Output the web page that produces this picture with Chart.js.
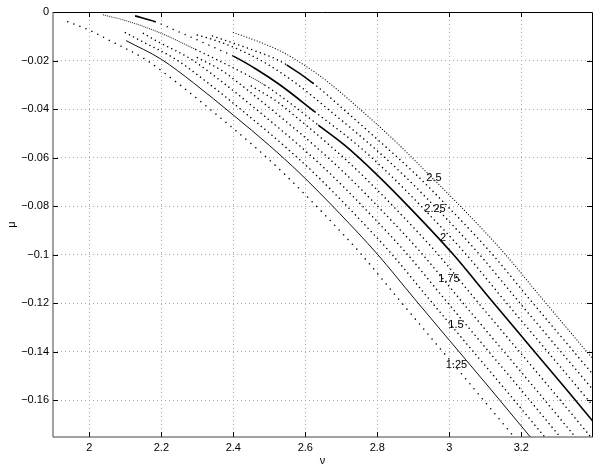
<!DOCTYPE html>
<html><head><meta charset="utf-8">
<script src="https://cdn.jsdelivr.net/npm/chart.js@4.4.1/dist/chart.umd.min.js"></script>
<style>html,body{margin:0;padding:0;background:#fff}#wrap{width:599px;height:470px;position:relative}</style>
</head><body><div id="wrap"><canvas id="c" width="599" height="470"></canvas></div>
<script>
// ---- data (ν, μ) ----
const xTicks = [2, 2.2, 2.4, 2.6, 2.8, 3, 3.2];
const xTickLabels = ["2", "2.2", "2.4", "2.6", "2.8", "3", "3.2"];
const yTicks = [0, -0.02, -0.04, -0.06, -0.08, -0.1, -0.12, -0.14, -0.16];
const yTickLabels = ["0", "\u22120.02", "\u22120.04", "\u22120.06", "\u22120.08", "\u22120.1", "\u22120.12", "\u22120.14", "\u22120.16"];
const xRange = [1.899, 3.3964];
const yRange = [-0.1752, 0];

const curve1 = [[1.94,-0.004],[2.0,-0.0075],[2.057,-0.0118],[2.155,-0.0195],[2.245,-0.0293],[2.355,-0.0425],[2.455,-0.055],[2.54,-0.0665],[2.65,-0.083],[2.755,-0.0998],[2.857,-0.118],[2.955,-0.1353],[3.067,-0.155],[3.179,-0.175],[3.207,-0.18]];
const curve2 = [[2.102,-0.0118],[2.2,-0.0195],[2.29,-0.0293],[2.4,-0.0425],[2.5,-0.055],[2.585,-0.0665],[2.695,-0.083],[2.8,-0.0998],[2.902,-0.118],[3.0,-0.1353],[3.112,-0.155],[3.224,-0.175],[3.252,-0.18]];
const curve3 = [[2.1,-0.0085],[2.142,-0.0118],[2.24,-0.0195],[2.33,-0.0293],[2.44,-0.0425],[2.54,-0.055],[2.625,-0.0665],[2.735,-0.083],[2.84,-0.0998],[2.942,-0.118],[3.04,-0.1353],[3.152,-0.155],[3.264,-0.175],[3.292,-0.18]];
const curve4 = [[2.15,-0.0088],[2.185,-0.0118],[2.283,-0.0195],[2.373,-0.0293],[2.483,-0.0425],[2.583,-0.055],[2.668,-0.0665],[2.778,-0.083],[2.883,-0.0998],[2.985,-0.118],[3.083,-0.1353],[3.195,-0.155],[3.307,-0.175],[3.335,-0.18]];
const curve5 = [[2.3,-0.0188],[2.372,-0.0245],[2.415,-0.0293],[2.525,-0.0425],[2.625,-0.055],[2.71,-0.0665],[2.82,-0.083],[2.925,-0.0998],[3.027,-0.118],[3.125,-0.1353],[3.237,-0.155],[3.349,-0.175],[3.377,-0.18]];
const curve6 = [[2.45,-0.0305],[2.522,-0.037],[2.568,-0.0425],[2.668,-0.055],[2.753,-0.0665],[2.863,-0.083],[2.968,-0.0998],[3.07,-0.118],[3.168,-0.1353],[3.28,-0.155],[3.392,-0.175],[3.42,-0.18]];
const curve7 = [[2.039,-0.0012],[2.1,-0.0035],[2.2,-0.0088],[2.296,-0.0155],[2.37,-0.0208],[2.451,-0.027],[2.488,-0.0302],[2.56,-0.0378],[2.636,-0.0466],[2.71,-0.055],[2.795,-0.0665],[2.905,-0.083],[3.01,-0.0998],[3.112,-0.118],[3.21,-0.1353],[3.322,-0.155],[3.434,-0.175]];
const curve8 = [[2.127,-0.0016],[2.183,-0.004],[2.238,-0.0075],[2.28,-0.0102],[2.321,-0.0129],[2.36,-0.0155],[2.4,-0.0182],[2.465,-0.0237],[2.53,-0.0301],[2.627,-0.0412],[2.746,-0.055],[2.831,-0.0665],[2.941,-0.083],[3.046,-0.0998],[3.148,-0.118],[3.246,-0.1353],[3.358,-0.155],[3.47,-0.175]];
const curve9 = [[2.3,-0.0095],[2.342,-0.0113],[2.4,-0.0145],[2.483,-0.0205],[2.573,-0.0293],[2.683,-0.0425],[2.783,-0.055],[2.868,-0.0665],[2.978,-0.083],[3.083,-0.0998],[3.185,-0.118],[3.283,-0.1353],[3.395,-0.155],[3.507,-0.175]];
const curve10 = [[2.342,-0.0099],[2.4,-0.0128],[2.46,-0.016],[2.52,-0.0195],[2.548,-0.0218],[2.622,-0.0294],[2.719,-0.0418],[2.819,-0.055],[2.904,-0.0665],[3.014,-0.083],[3.119,-0.0998],[3.221,-0.118],[3.319,-0.1353],[3.431,-0.155]];
const curve11 = [[2.4,-0.0085],[2.47,-0.0122],[2.54,-0.0168],[2.6,-0.0222],[2.66,-0.0285],[2.755,-0.0405],[2.855,-0.054],[2.94,-0.0665],[3.05,-0.083],[3.155,-0.0998],[3.257,-0.118],[3.355,-0.1353],[3.467,-0.155]];

const levelLabels = ["2.5", "2.25", "2", "1.75", "1.5", "1.25"];
const levelLabelNu = [2.9575, 2.9603, 2.9825, 2.9992, 3.0186, 3.0200];
const levelLabelMu = [-0.06825, -0.08124, -0.0932, -0.1101, -0.12907, -0.14536];

// ---- styles (kept apart from the data) ----
const STYLES = {
  sparse: {dash:[0.01,6.5], width:1.5, color:'#000', cap:'round'},
  dot:    {dash:[0.01,4.6], width:1.5, color:'#000', cap:'round'},
  fine:   {dash:[0.01,2.8], width:1.2, color:'#111', cap:'round'},
  dense:  {dash:[0.01,2.0], width:1.2, color:'#333', cap:'round'},
  thin:   {dash:[], width:1.0, color:'#111', cap:'butt'},
  thick:  {dash:[], width:1.6, color:'#000', cap:'butt'}
};
const curves = [
  {pts:curve1,  runs:[[0,'sparse']]},
  {pts:curve2,  runs:[[0,'thin']]},
  {pts:curve3,  runs:[[0,'dot']]},
  {pts:curve4,  runs:[[0,'dot']]},
  {pts:curve5,  runs:[[0,'dot']]},
  {pts:curve6,  runs:[[0,'dot']]},
  {pts:curve7,  runs:[[0,'dense'],[3,'dot'],[5,'dense'],[6,'dot'],[8,'thick']]},
  {pts:curve8,  runs:[[0,'thick'],[1,'sparse'],[6,'thick'],[9,'dot']]},
  {pts:curve9,  runs:[[0,'dot']]},
  {pts:curve10, runs:[[0,'dot'],[4,'thick'],[5,'dot']]},
  {pts:curve11, runs:[[0,'fine']]}
];
function styleAt(runs, i){ let s = runs[0][1]; for (const r of runs){ if (i >= r[0]) s = r[1]; } return STYLES[s]; }

const datasets = curves.map(c => {
  const s0 = styleAt(c.runs, 0);
  return {
    data: c.pts.map(p => ({x:p[0], y:p[1]})),
    showLine: true, pointRadius: 0, pointHoverRadius: 0,
    cubicInterpolationMode: 'monotone',
    borderColor: s0.color, borderWidth: s0.width, borderDash: s0.dash, borderCapStyle: s0.cap,
    segment: {
      borderDash: ctx => styleAt(c.runs, ctx.p0DataIndex).dash,
      borderWidth: ctx => styleAt(c.runs, ctx.p0DataIndex).width,
      borderColor: ctx => styleAt(c.runs, ctx.p0DataIndex).color,
      borderCapStyle: ctx => styleAt(c.runs, ctx.p0DataIndex).cap
    }
  };
});

const FONT = '11px "Liberation Sans", Arial, Helvetica, sans-serif';
const deco = {
  id: 'deco',
  afterDraw(chart){
    const {ctx, chartArea:a, scales:{x, y}} = chart;
    ctx.save();
    // ticks (inward, all four sides)
    ctx.strokeStyle = '#000'; ctx.lineWidth = 1;
    ctx.beginPath();
    xTicks.forEach(v => {
      const px = Math.round(x.getPixelForValue(v)) + 0.5;
      ctx.moveTo(px, a.bottom); ctx.lineTo(px, a.bottom - 5);
      ctx.moveTo(px, a.top); ctx.lineTo(px, a.top + 5);
    });
    yTicks.forEach(v => {
      const py = Math.round(y.getPixelForValue(v)) + 0.5;
      ctx.moveTo(a.left, py); ctx.lineTo(a.left + 5, py);
      ctx.moveTo(a.right, py); ctx.lineTo(a.right - 5, py);
    });
    ctx.stroke();
    // box
    ctx.beginPath();
    ctx.strokeStyle = '#000';
    ctx.moveTo(a.left, a.top + 0.5); ctx.lineTo(a.right + 0.5, a.top + 0.5);
    ctx.lineTo(a.right + 0.5, a.bottom);
    ctx.stroke();
    ctx.beginPath();
    ctx.strokeStyle = '#444';
    ctx.moveTo(a.right + 1, a.bottom); ctx.lineTo(a.left, a.bottom); ctx.lineTo(a.left, a.top);
    ctx.stroke();
    // contour level labels
    ctx.fillStyle = '#000'; ctx.font = FONT; ctx.textAlign = 'center'; ctx.textBaseline = 'middle';
    levelLabels.forEach((t, i) => {
      ctx.fillText(t, x.getPixelForValue(levelLabelNu[i]), y.getPixelForValue(levelLabelMu[i]));
    });
    // axis titles
    ctx.fillText('\u03bd', (a.left + a.right) / 2, 461);
    ctx.translate(12, (a.top + a.bottom) / 2);
    ctx.rotate(-Math.PI / 2);
    ctx.fillText('\u03bc', 0, 0);
    ctx.restore();
  }
};

new Chart(document.getElementById('c'), {
  type: 'scatter',
  data: { datasets },
  options: {
    responsive: true, maintainAspectRatio: false, animation: false, devicePixelRatio: 1,
    events: [],
    layout: { padding: { top: 12, right: 7, left: 0, bottom: 0 } },
    plugins: { legend: {display:false}, tooltip: {enabled:false}, title: {display:false} },
    scales: {
      x: {
        type: 'linear', min: xRange[0], max: xRange[1],
        afterBuildTicks: s => { s.ticks = xTicks.map(v => ({value:v})); },
        afterFit: s => { s.height = 33; },
        ticks: { callback: (v, i) => xTickLabels[i], color:'#000', padding: 4,
                 font: {family:'"Liberation Sans", Arial, sans-serif', size: 11}, maxRotation: 0, autoSkip: false },
        grid: { color: '#a8a8a8', lineWidth: 1, drawTicks: false },
        border: { display: false, dash: [1, 3] }
      },
      y: {
        type: 'linear', min: yRange[0], max: yRange[1],
        afterBuildTicks: s => { s.ticks = yTicks.map(v => ({value:v})); },
        afterFit: s => { s.width = 53; },
        ticks: { callback: (v, i) => yTickLabels[i], color:'#000', padding: 4,
                 font: {family:'"Liberation Sans", Arial, sans-serif', size: 11}, autoSkip: false },
        grid: { color: '#a8a8a8', lineWidth: 1, drawTicks: false },
        border: { display: false, dash: [1, 3] }
      }
    }
  },
  plugins: [deco]
});
</script>
</body></html>
